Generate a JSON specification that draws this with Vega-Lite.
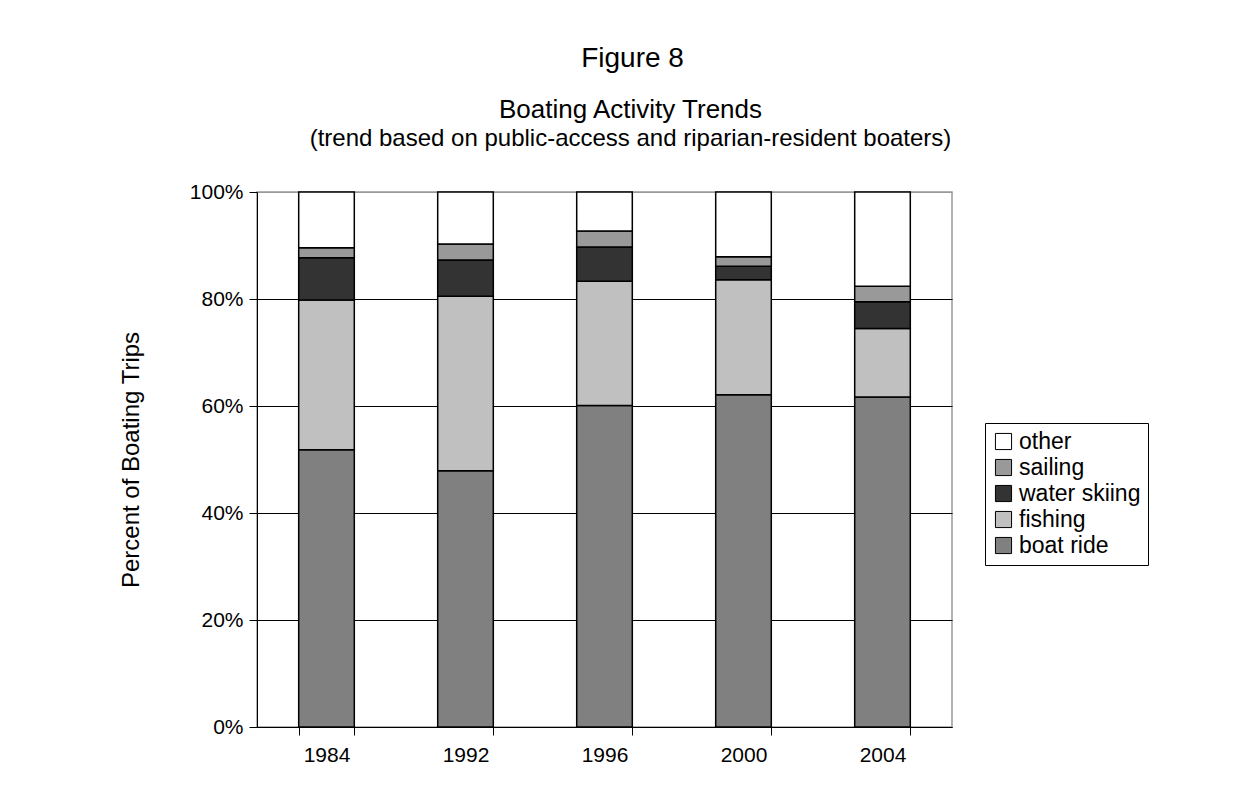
{
  "$schema": "https://vega.github.io/schema/vega-lite/v6.json",
  "padding": {"left": 118, "top": 45, "right": 5, "bottom": 5},
  "background": "white",
  "config": {
    "font": "Liberation Sans",
    "view": {"stroke": "#999999", "strokeWidth": 1.5}
  },
  "title": {
    "text": "Figure 8",
    "fontSize": 28,
    "fontWeight": "normal",
    "color": "black",
    "anchor": "middle",
    "dx": -1,
    "offset": 23
  },
  "vconcat": [
    {
      "width": 695,
      "height": 535,
      "title": {
        "text": "Boating Activity Trends",
        "subtitle": "(trend based on public-access and riparian-resident boaters)",
        "fontSize": 26,
        "subtitleFontSize": 24,
        "fontWeight": "normal",
        "color": "black",
        "subtitleColor": "black",
        "anchor": "middle",
        "dx": 26,
        "subtitlePadding": 4,
        "offset": 30
      },
      "data": {
        "values": [
          {"year": "1984", "activity": "boat ride", "pct": 51.8},
          {"year": "1984", "activity": "fishing", "pct": 28.0},
          {"year": "1984", "activity": "water skiing", "pct": 7.9},
          {"year": "1984", "activity": "sailing", "pct": 1.9},
          {"year": "1984", "activity": "other", "pct": 10.4},
          {"year": "1992", "activity": "boat ride", "pct": 47.9},
          {"year": "1992", "activity": "fishing", "pct": 32.6},
          {"year": "1992", "activity": "water skiing", "pct": 6.8},
          {"year": "1992", "activity": "sailing", "pct": 3.0},
          {"year": "1992", "activity": "other", "pct": 9.7},
          {"year": "1996", "activity": "boat ride", "pct": 60.1},
          {"year": "1996", "activity": "fishing", "pct": 23.2},
          {"year": "1996", "activity": "water skiing", "pct": 6.4},
          {"year": "1996", "activity": "sailing", "pct": 3.0},
          {"year": "1996", "activity": "other", "pct": 7.3},
          {"year": "2000", "activity": "boat ride", "pct": 62.1},
          {"year": "2000", "activity": "fishing", "pct": 21.5},
          {"year": "2000", "activity": "water skiing", "pct": 2.5},
          {"year": "2000", "activity": "sailing", "pct": 1.8},
          {"year": "2000", "activity": "other", "pct": 12.1},
          {"year": "2004", "activity": "boat ride", "pct": 61.7},
          {"year": "2004", "activity": "fishing", "pct": 12.8},
          {"year": "2004", "activity": "water skiing", "pct": 5.0},
          {"year": "2004", "activity": "sailing", "pct": 2.9},
          {"year": "2004", "activity": "other", "pct": 17.6}
        ]
      },
      "transform": [
        {"calculate": "indexof(['boat ride','fishing','water skiing','sailing','other'], datum.activity)", "as": "stackOrder"}
      ],
      "mark": {"type": "bar", "stroke": "black", "strokeWidth": 1.5},
      "encoding": {
        "x": {
          "field": "year",
          "type": "ordinal",
          "scale": {"paddingInner": 0.6, "paddingOuter": 0.3},
          "axis": {
            "title": null,
            "labelAngle": 0,
            "labelFontSize": 21,
            "labelColor": "black",
            "labelPadding": 9,
            "domainColor": "black",
            "domainWidth": 1,
            "tickColor": "black",
            "tickSize": 8,
            "tickBand": "extent",
            "grid": false
          }
        },
        "y": {
          "field": "pct",
          "type": "quantitative",
          "stack": "normalize",
          "scale": {"domain": [0, 1]},
          "axis": {
            "title": "Percent of Boating Trips",
            "titleFontSize": 24,
            "titleFontWeight": "normal",
            "titleColor": "black",
            "titlePadding": 46,
            "format": ".0%",
            "values": [0, 0.2, 0.4, 0.6, 0.8, 1],
            "labelFontSize": 21,
            "labelColor": "black",
            "labelPadding": 6,
            "domainColor": "black",
            "domainWidth": 1,
            "tickColor": "black",
            "tickSize": 8,
            "grid": true,
            "gridColor": {"condition": {"test": "datum.value === 1", "value": "#999999"}, "value": "black"},
            "gridWidth": 1
          }
        },
        "color": {
          "field": "activity",
          "type": "nominal",
          "scale": {
            "domain": ["other", "sailing", "water skiing", "fishing", "boat ride"],
            "range": ["#ffffff", "#999999", "#333333", "#c0c0c0", "#808080"]
          },
          "legend": {
            "title": null,
            "orient": "none",
            "legendX": 728,
            "legendY": 231,
            "symbolType": "square",
            "symbolSize": 260,
            "symbolStrokeColor": "black",
            "symbolStrokeWidth": 1,
            "labelFontSize": 23,
            "labelColor": "black",
            "labelOffset": 4,
            "rowPadding": 2,
            "strokeColor": "black",
            "fillColor": "white",
            "padding": 7,
            "labelLimit": 300
          }
        },
        "order": {"field": "stackOrder", "type": "quantitative"}
      }
    }
  ]
}
